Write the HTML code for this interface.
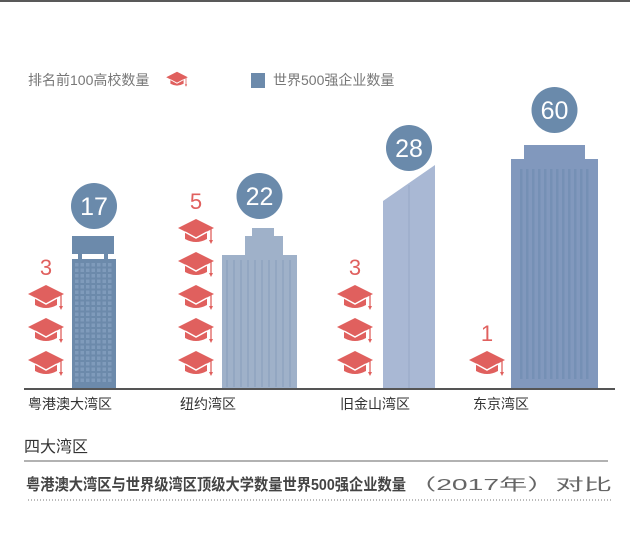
<!DOCTYPE html>
<html><head><meta charset="utf-8">
<style>
html,body{margin:0;padding:0;background:#fff;}
body{width:633px;height:542px;overflow:hidden;font-family:"Liberation Sans","Noto Sans CJK SC",sans-serif;}
svg text{font-family:"Liberation Sans","Noto Sans CJK SC",sans-serif;}
</style></head>
<body>
<svg id="chart" width="633" height="542">
  <line x1="0" y1="1" x2="630" y2="1" stroke="#222" stroke-width="1.5"/>
  <g>
    <text x="28" y="85" font-size="14" fill="#777">排名前100高校数量</text>
    <g id="legendCap"></g>
    <rect x="251" y="73" width="14" height="15" fill="#6c8aab"/>
    <text x="273" y="85" font-size="14" fill="#777">世界500强企业数量</text>
  </g>
  <g id="marks"></g>
  <line x1="24" y1="389" x2="615" y2="389" stroke="#555" stroke-width="2"/>
  <g id="labels"></g>
  <text x="24" y="452" font-size="16" fill="#333">四大湾区</text>
  <line x1="24" y1="461" x2="608" y2="461" stroke="#999" stroke-width="1.5"/>
  <text x="26" y="490" font-size="16" fill="#444" font-weight="bold" textLength="380" lengthAdjust="spacingAndGlyphs">粤港澳大湾区与世界级湾区顶级大学数量世界500强企业数量</text>
  <text x="408" y="490" font-size="16" fill="#666" textLength="204" lengthAdjust="spacingAndGlyphs">（2017年）对比</text>
  <line x1="28" y1="500" x2="612" y2="500" stroke="#777" stroke-width="1" stroke-dasharray="1,2"/>
</svg>
<script>
const categories = ["粤港澳大湾区","纽约湾区","旧金山湾区","东京湾区"];
const universities = [3,5,3,1];
const companies = [17,22,28,60];

const NS="http://www.w3.org/2000/svg";
const baseY=389;
const capX=[46,196,355,487];
const bldX=[72,222,383,511];
const bldW=[44,75,52,87];
const labelX=[28,180,340,473];
const badgeGap=[30,32,17,35];
const bldColors=["#6c8aab","#9fb1c9","#a9b8d4","#8198bd"];
function hScale(v){
  const d=[0,17,22,28,60,100], r=[40,153,161,224,244,270];
  for(let i=0;i<d.length-1;i++){ if(v<=d[i+1]) return r[i]+(v-d[i])/(d[i+1]-d[i])*(r[i+1]-r[i]); }
  return r[r.length-1];
}
function capY(i){ return baseY-26-i*33; }
function mk(tag,attrs,parent){const e=document.createElementNS(NS,tag);for(const k in attrs)e.setAttribute(k,attrs[k]);parent.appendChild(e);return e;}
function cap(cx,cy,parent,s){
  s=s||1;
  const g=mk('g',{transform:`translate(${cx},${cy}) scale(${s})`},parent);
  
  
  mk('path',{d:'M-11,0 L-11,8 Q0,14 11,8 L11,0 Z',fill:'#e0605e'},g);
  mk('path',{d:'M-18,-3 L0,-12 L18,-3 L0,6 Z',fill:'#e0605e'},g);
  mk('path',{d:'M-11,1 L0,7 L11,1',fill:'none',stroke:'#fff','stroke-width':1.5},g);
  mk('line',{x1:15,y1:-2,x2:15,y2:10,stroke:'#e0605e','stroke-width':1.3},g);
  mk('path',{d:'M13,9 L17,9 L15,13 Z',fill:'#e0605e'},g);
  return g;
}
cap(177,79,document.getElementById('legendCap'),0.6);
const marks=document.getElementById('marks');
const labels=document.getElementById('labels');
categories.forEach((c,i)=>{
  const g=mk('g',{},marks);
  
  
  for(let k=0;k<universities[i];k++) cap(capX[i],capY(k),g);
  const n=mk('text',{x:capX[i],y:capY(universities[i]-1)-22,'font-size':22,fill:'#e0605e','text-anchor':'middle'},g);
  n.textContent=universities[i];
  
  
  const h=hScale(companies[i]);
  const top=baseY-h, x=bldX[i], w=bldW[i], col=bldColors[i];
  const b=mk('g',{},g);
  
  
  if(i===0){
    mk('rect',{x:x,y:top,width:w-2,height:18,fill:col},b);
    mk('rect',{x:x+6,y:top+18,width:4,height:5,fill:col},b);
    mk('rect',{x:x+w-12,y:top+18,width:4,height:5,fill:col},b);
    mk('rect',{x:x,y:top+23,width:w,height:h-23,fill:col},b);
    for(let yy=top+27;yy<baseY-10;yy+=5.5)for(let xx=x+3;xx<x+w-3;xx+=5.5)
      mk('rect',{x:xx,y:yy,width:3.5,height:3.5,fill:'#7f9bbb'},b);
  } else if(i===1){
    mk('rect',{x:x+30,y:top,width:22,height:10,fill:col},b);
    mk('rect',{x:x+23,y:top+8,width:38,height:20,fill:col},b);
    mk('rect',{x:x,y:top+27,width:w,height:h-27,fill:col},b);
    for(let xx=x+4;xx<x+w-3;xx+=7) mk('rect',{x:xx,y:top+32,width:2,height:h-34,fill:'#93a7c2'},b);
  } else if(i===2){
    mk('path',{d:`M${x},${top+36} L${x+w},${top} L${x+w},${baseY} L${x},${baseY} Z`,fill:col},b);
    mk('rect',{x:x+25,y:top+20,width:2,height:h-20,fill:'#a0b0cd'},b);
  } else {
    mk('rect',{x:x+13,y:top,width:w-26,height:14,fill:col},b);
    mk('rect',{x:x,y:top+14,width:w,height:h-14,fill:col},b);
    for(let xx=x+9;xx<x+w-8;xx+=6) mk('rect',{x:xx,y:top+24,width:2.5,height:h-34,fill:'#7590b5'},b);
  }
  const cx=x+w/2, cy=top-badgeGap[i];
  const circ=mk('circle',{cx:cx,cy:cy,r:23,fill:'#6a8aab'},g);
  
  
  const t=mk('text',{x:cx,y:cy+9,'font-size':25,fill:'#fff','text-anchor':'middle'},g);
  t.textContent=companies[i];
  
  
  const l=mk('text',{x:labelX[i],y:409,'font-size':14,fill:'#333'},labels);
  l.textContent=c;
  
  
});
</script>
</body></html>
